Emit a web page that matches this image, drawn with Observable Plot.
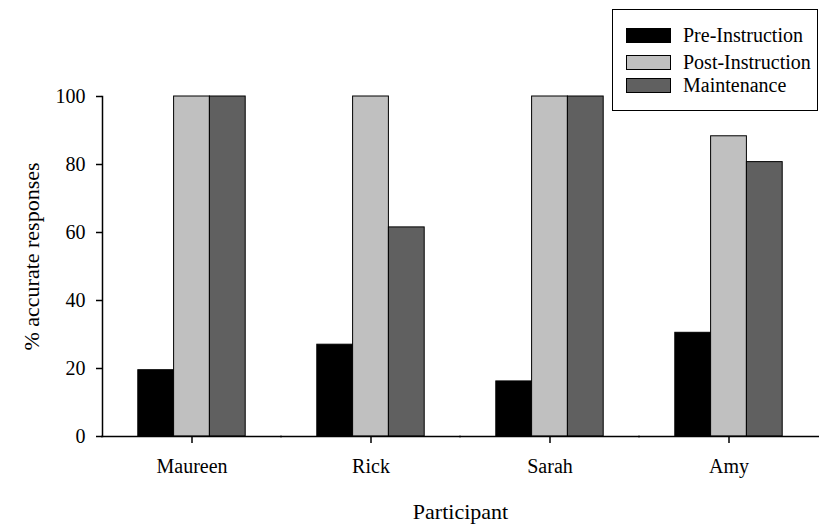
<!DOCTYPE html>
<html>
<head>
<meta charset="utf-8">
<script src="https://cdn.jsdelivr.net/npm/d3@7"></script>
<script src="https://cdn.jsdelivr.net/npm/@observablehq/plot@0.6"></script>
<style>
  html, body { margin: 0; padding: 0; background: #fff; }
  #wrap { position: relative; width: 820px; height: 525px; font-family: "Liberation Serif", "Times New Roman", serif; }
  #legend { position: absolute; left: 612px; top: 9px; width: 206px; height: 102px; border: 1px solid #000; background: #fff; box-sizing: border-box; }
  .row { position: absolute; left: 13px; height: 22px; display: flex; align-items: center; font-size: 20px; color: #000; white-space: nowrap; }
  .sw { width: 45px; height: 15px; border: 1px solid #000; box-sizing: border-box; margin-right: 12px; }
  svg text { fill: #000; }
</style>
</head>
<body>
<div id="wrap"></div>
<script>
const participants = ["Maureen", "Rick", "Sarah", "Amy"];
const conditions = ["Pre-Instruction", "Post-Instruction", "Maintenance"];
const preValues = [19.5, 27, 16.2, 30.5];
const postValues = [100, 100, 100, 88.3];
const maintValues = [100, 61.5, 100, 80.7];
const yTicks = [0, 20, 40, 60, 80, 100];
const colors = ["#000000", "#c0c0c0", "#606060"];

const seriesValues = [preValues, postValues, maintValues];
const data = [];
participants.forEach((p, i) => {
  conditions.forEach((c, j) => {
    data.push({participant: p, condition: c, value: seriesValues[j][i]});
  });
});

const chart = Plot.plot({
  width: 820,
  height: 525,
  marginLeft: 100,
  marginRight: 1,
  marginTop: 96,
  marginBottom: 89,
  style: {fontFamily: "Liberation Serif", fontSize: "20px", background: "transparent", color: "#000"},
  fx: {domain: participants, padding: 0},
  x: {domain: conditions, paddingInner: 0, paddingOuter: 1, round: false, axis: null},
  y: {domain: [0, 100]},
  color: {domain: conditions, range: colors},
  marks: [
    Plot.barY(data, {fx: "participant", x: "condition", y: "value", fill: "condition", stroke: "#000", strokeWidth: 1}),
    Plot.ruleY([0], {stroke: "#000", strokeWidth: 1.5, insetLeft: -1, insetRight: -1}),
    Plot.frame({anchor: "left", facetAnchor: "left", stroke: "#000", strokeWidth: 1.5}),
    Plot.axisY({ticks: yTicks, tickSize: 6, tickPadding: 11, label: null, fontSize: 20, strokeWidth: 1.5}),
    Plot.text(["% accurate responses"], {fx: [participants[0]], frameAnchor: "left", textAnchor: "middle", lineAnchor: "middle", rotate: -90, dx: -71, dy: -10, fontSize: 22, fill: "#000"}),
    Plot.axisFx({anchor: "bottom", tickSize: 7, tickPadding: 15, label: null, fontSize: 20, strokeWidth: 1.5}),
    Plot.axisFx({anchor: "bottom", ticks: [], label: "Participant", labelAnchor: "center", labelArrow: "none", labelOffset: 82, fontSize: 22})
  ]
});

const wrap = document.getElementById("wrap");
wrap.appendChild(chart);

const legend = document.createElement("div");
legend.id = "legend";
const rowCenters = [25.5, 52, 75.5];
conditions.forEach((c, j) => {
  const row = document.createElement("div");
  row.className = "row";
  row.style.top = (rowCenters[j] - 11) + "px";
  const sw = document.createElement("div");
  sw.className = "sw";
  sw.style.background = colors[j];
  const t = document.createElement("span");
  t.textContent = c;
  row.appendChild(sw);
  row.appendChild(t);
  legend.appendChild(row);
});
wrap.appendChild(legend);
</script>
</body>
</html>
